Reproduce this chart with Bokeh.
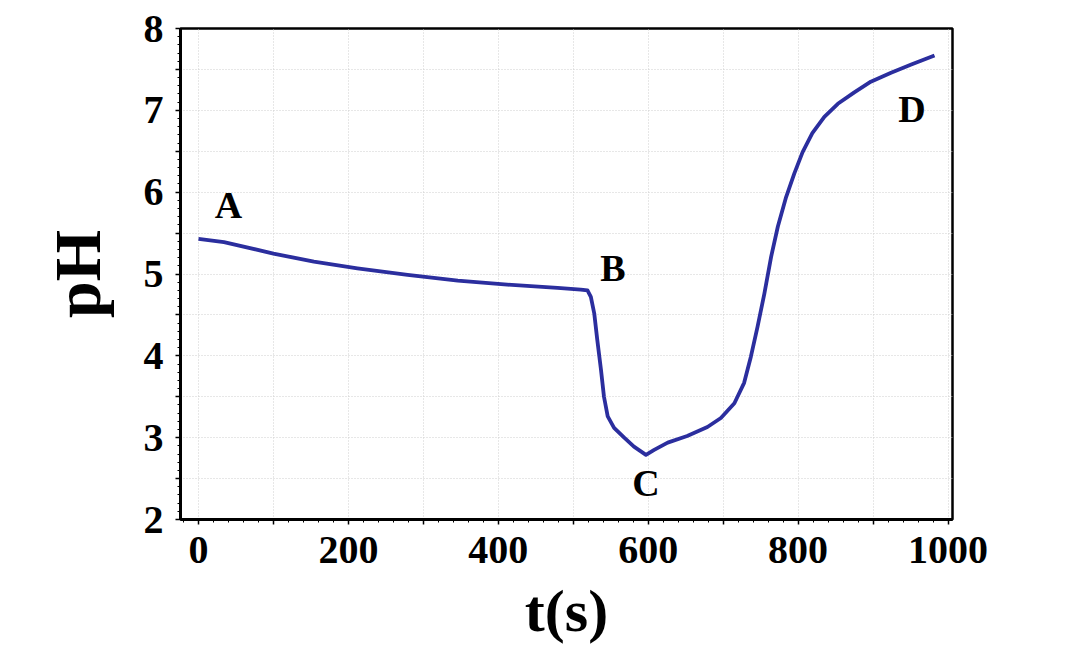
from bokeh.plotting import figure
from bokeh.models import FixedTicker, Range1d, Label
from bokeh.embed import file_html
from bokeh.resources import INLINE

# time (s) and pH
t = [0, 34, 100, 154, 212, 279, 346, 412, 479, 510, 519, 523.5, 528, 532, 537,
     541, 546, 554.5, 568, 581, 597, 608, 626, 652, 679, 697, 715, 728, 737,
     746, 755, 764, 773, 784, 795, 806, 819, 835, 853, 875, 897, 924, 951, 982]
ph = [5.43, 5.39, 5.25, 5.15, 5.07, 4.99, 4.92, 4.87, 4.83, 4.81, 4.80, 4.72,
      4.52, 4.20, 3.83, 3.50, 3.26, 3.12, 3.00, 2.89, 2.79, 2.85, 2.94, 3.02,
      3.13, 3.24, 3.42, 3.67, 3.99, 4.36, 4.76, 5.21, 5.58, 5.94, 6.23, 6.49,
      6.72, 6.92, 7.08, 7.22, 7.35, 7.46, 7.56, 7.67]

x_ticks = [0, 100, 200, 300, 400, 500, 600, 700, 800, 900, 1000]
x_tick_labels = ["0", "", "200", "", "400", "", "600", "", "800", "", "1000"]
y_ticks = [2, 2.5, 3, 3.5, 4, 4.5, 5, 5.5, 6, 6.5, 7, 7.5, 8]
y_tick_labels = ["2", "", "3", "", "4", "", "5", "", "6", "", "7", "", "8"]

point_labels = ["A", "B", "C", "D"]
label_t = [40, 553, 597, 952]
label_ph = [5.84, 5.07, 2.45, 7.02]

x_title = "t(s)"
y_title = "pH"

FONT = "Liberation Serif"
BLUE = "#2b2e9e"

p = figure(width=1062, height=646, output_backend="svg", toolbar_location=None,
           x_range=Range1d(-24, 1006), y_range=Range1d(2, 8),
           min_border_left=180, min_border_top=28, min_border_right=110,
           min_border_bottom=126)
p.background_fill_color = "white"
p.border_fill_color = "white"
p.outline_line_color = "black"
p.outline_line_width = 2.5

p.line(t, ph, line_color=BLUE, line_width=3.8, line_join="round")

# axes
p.xaxis.ticker = FixedTicker(ticks=x_ticks,
                             minor_ticks=[v for v in range(-20, 1001, 20)])
p.xaxis.major_label_overrides = {v: s for v, s in zip(x_ticks, x_tick_labels)}
minor_y = [round(2 + 0.1 * i, 1) for i in range(61)]
p.yaxis.ticker = FixedTicker(ticks=y_ticks, minor_ticks=minor_y)
p.yaxis.major_label_overrides = {v: s for v, s in zip(y_ticks, y_tick_labels)}

for ax in (p.xaxis, p.yaxis):
    ax.axis_line_width = 3
    ax.axis_line_color = "black"
    ax.major_tick_in = 0
    ax.major_tick_out = 5
    ax.minor_tick_in = 0
    ax.minor_tick_out = 3
    ax.major_tick_line_width = 1.5
    ax.minor_tick_line_width = 1
    ax.major_label_text_font = FONT
    ax.major_label_text_font_style = "bold"
    ax.major_label_text_font_size = "40px"
    ax.major_label_text_color = "black"
    ax.axis_label_text_font = FONT
    ax.axis_label_text_font_style = "bold"
    ax.axis_label_text_color = "black"

p.xaxis.axis_label = x_title
p.xaxis.axis_label_text_font_size = "60px"
p.xaxis.major_label_standoff = 12
p.xaxis.axis_label_standoff = 12
p.yaxis.axis_label = y_title
p.yaxis.axis_label_text_font_size = "66px"
p.yaxis.major_label_standoff = 12
p.yaxis.axis_label_standoff = 27

# grid
p.xgrid.ticker = FixedTicker(ticks=x_ticks)
p.ygrid.ticker = FixedTicker(ticks=y_ticks)
for g in (p.xgrid, p.ygrid):
    g.grid_line_color = "#cfcfcf"
    g.grid_line_dash = "1 2"
    g.grid_line_width = 1

for s, xx, yy in zip(point_labels, label_t, label_ph):
    p.add_layout(Label(x=xx, y=yy, text=s, text_font=FONT,
                       text_font_style="bold", text_font_size="38px",
                       text_align="center", text_baseline="middle",
                       text_color="black"))

open("out.html", "w").write(file_html(p, INLINE))
